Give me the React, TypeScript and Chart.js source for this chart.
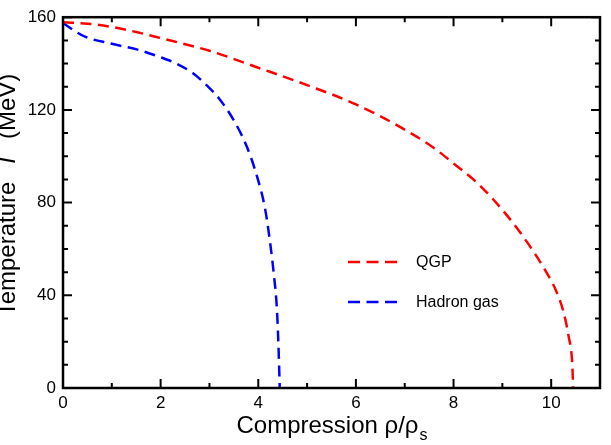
import React, { useEffect, useRef } from 'react';
import { Chart, registerables } from 'chart.js';

Chart.register(...registerables);

// ---- data ----
const qgpX = [0, 0.5, 1, 1.5, 2, 3, 4, 5, 6, 7, 7.59, 8.0, 8.48, 9.09, 9.57, 9.9, 10.1, 10.25, 10.36, 10.43, 10.45];
const qgpT = [157.8, 157.2, 155.8, 153.6, 151.0, 145.5, 138.2, 130.7, 122.4, 111.5, 103.7, 96.9, 88.6, 74.6, 61.0, 50.0, 42.0, 33.0, 22.0, 11.0, 0];

const hadronX = [0, 0.2, 0.45, 0.96, 1.51, 1.99, 2.33, 2.67, 2.94, 3.22, 3.49, 3.76, 3.97, 4.14, 4.24, 4.32, 4.38, 4.41, 4.44];
const hadronT = [157.5, 154.6, 151.6, 148.7, 146.1, 142.8, 139.9, 135.7, 130.7, 124.3, 115.8, 104.4, 91.6, 77.3, 63.1, 48.9, 34.7, 20.5, 0];

const seriesLabels = ['QGP', 'Hadron gas'];
const seriesColors = ['#ff0000', '#0000ff'];

const xMajorTicks = [0, 2, 4, 6, 8, 10];
const xMinorTicks = [1, 3, 5, 7, 9];
const yMajorTicks = [0, 40, 80, 120, 160];
const yMinorTicks = [10, 20, 30, 50, 60, 70, 90, 100, 110, 130, 140, 150];

const FONT = '"Liberation Sans", Arial, Helvetica, sans-serif';

const toPoints = (xs: number[], ys: number[]) => xs.map((x, i) => ({ x, y: ys[i] }));

const decorPlugin = {
  id: 'decor',
  afterDraw(chart: any) {
    const { ctx, chartArea: a, scales } = chart;
    const xs = scales.x;
    const ys = scales.y;
    ctx.save();
    // frame
    ctx.strokeStyle = '#000';
    ctx.lineWidth = 2.5;
    ctx.strokeRect(a.left, a.top, a.right - a.left, a.bottom - a.top);
    // inward ticks on all four sides
    ctx.lineWidth = 2;
    ctx.beginPath();
    const xTick = (v: number, len: number) => {
      const p = xs.getPixelForValue(v);
      ctx.moveTo(p, a.bottom);
      ctx.lineTo(p, a.bottom - len);
      ctx.moveTo(p, a.top);
      ctx.lineTo(p, a.top + len);
    };
    const yTick = (v: number, len: number) => {
      const p = ys.getPixelForValue(v);
      ctx.moveTo(a.left, p);
      ctx.lineTo(a.left + len, p);
      ctx.moveTo(a.right, p);
      ctx.lineTo(a.right - len, p);
    };
    xMajorTicks.forEach((v) => xTick(v, 9));
    xMinorTicks.forEach((v) => xTick(v, 5));
    yMajorTicks.forEach((v) => yTick(v, 9));
    yMinorTicks.forEach((v) => yTick(v, 5));
    ctx.stroke();

    // x title: Compression ρ/ρ_s
    ctx.fillStyle = '#000';
    ctx.textBaseline = 'alphabetic';
    ctx.textAlign = 'left';
    const mainFont = `24px ${FONT}`;
    const subFont = `16px ${FONT}`;
    ctx.font = mainFont;
    const t1 = 'Compression ρ/ρ';
    const w1 = ctx.measureText(t1).width;
    ctx.font = subFont;
    const w2 = ctx.measureText('s').width;
    const cx = (a.left + a.right) / 2;
    const startX = cx - (w1 + w2) / 2;
    const baseY = 433;
    ctx.font = mainFont;
    ctx.fillText(t1, startX, baseY);
    ctx.font = subFont;
    ctx.fillText('s', startX + w1 + 1, baseY + 7);

    // y title: Temperature T (MeV), rotated (clipped at the left edge as in the original)
    const yFont = `24px ${FONT}`;
    const yItal = `italic 24px ${FONT}`;
    ctx.font = yFont;
    const s1 = 'Temperature';
    const s3 = '(MeV)';
    const ws1 = ctx.measureText(s1).width;
    const ws3 = ctx.measureText(s3).width;
    ctx.font = yItal;
    const ws2 = ctx.measureText('T').width;
    const gap = 14;
    const total = ws1 + gap + ws2 + gap + ws3;
    ctx.save();
    ctx.translate(15, 195);
    ctx.rotate(-Math.PI / 2);
    let px = -total / 2;
    ctx.font = yFont;
    ctx.fillText(s1, px, 0);
    px += ws1 + gap;
    ctx.font = yItal;
    ctx.fillText('T', px, 0);
    px += ws2 + gap;
    ctx.font = yFont;
    ctx.fillText(s3, px, 0);
    ctx.restore();

    // legend inside plot
    const legendRows = [262, 302];
    chart.data.datasets.forEach((ds: any, i: number) => {
      const y = legendRows[i];
      ctx.strokeStyle = ds.borderColor;
      ctx.lineWidth = 2.5;
      ctx.setLineDash([12, 6.5]);
      ctx.beginPath();
      ctx.moveTo(348, y);
      ctx.lineTo(397, y);
      ctx.stroke();
      ctx.setLineDash([]);
      ctx.fillStyle = '#000';
      ctx.font = `16px ${FONT}`;
      ctx.textBaseline = 'middle';
      ctx.fillText(ds.label, 416, y + 1);
    });
    ctx.restore();
  },
};

export default function App() {
  const ref = useRef<HTMLCanvasElement | null>(null);
  useEffect(() => {
    if (!ref.current) return;
    const mkDs = (i: number, xs: number[], ys: number[]) => ({
      label: seriesLabels[i],
      data: toPoints(xs, ys),
      borderColor: seriesColors[i],
      borderWidth: 2.5,
      borderDash: [11, 6.5],
      pointRadius: 0,
      cubicInterpolationMode: 'monotone' as const,
      fill: false,
    });
    const chart = new Chart(ref.current, {
      type: 'line',
      data: {
        datasets: [mkDs(0, qgpX, qgpT), mkDs(1, hadronX, hadronT)],
      },
      options: {
        responsive: false,
        animation: false,
        devicePixelRatio: 1,
        layout: { padding: { left: 0, right: 11, top: 13, bottom: 0 } },
        plugins: {
          legend: { display: false },
          tooltip: { enabled: false },
        },
        scales: {
          x: {
            type: 'linear',
            min: 0,
            max: 11,
            grid: { display: false, drawTicks: false },
            border: { display: false },
            ticks: {
              stepSize: 2,
              includeBounds: false,
              color: '#000',
              font: { family: FONT, size: 17 },
              padding: 5,
              maxRotation: 0,
            },
            afterFit: (s: any) => {
              s.height = 57;
            },
          },
          y: {
            type: 'linear',
            min: 0,
            max: 160,
            grid: { display: false, drawTicks: false },
            border: { display: false },
            ticks: {
              stepSize: 40,
              color: '#000',
              font: { family: FONT, size: 17 },
              padding: 7,
            },
            afterFit: (s: any) => {
              s.width = 63;
            },
          },
        },
      },
      plugins: [decorPlugin],
    });
    return () => chart.destroy();
  }, []);
  return (
    <div style={{ position: 'fixed', left: 0, top: 0, width: 611, height: 445, background: '#fff' }}>
      <canvas ref={ref} width={611} height={445} style={{ width: 611, height: 445, display: 'block' }} />
    </div>
  );
}
